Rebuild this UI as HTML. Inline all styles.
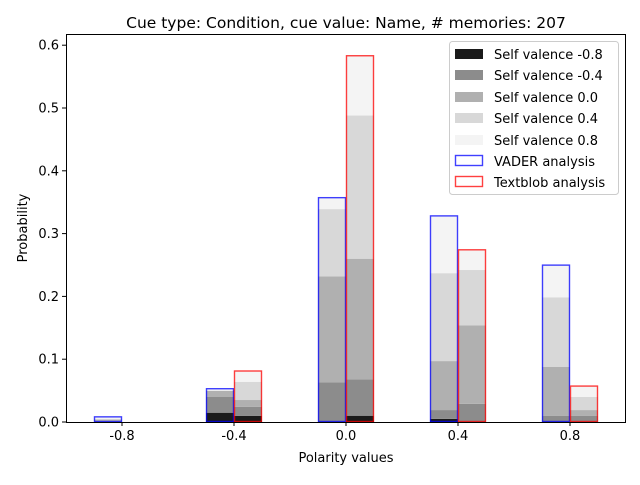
<!DOCTYPE html>
<html><head><meta charset="utf-8"><style>
body{margin:0;background:#fff}
svg{font-family:"DejaVu Sans","Liberation Sans",sans-serif}
</style></head><body>
<svg id="c" width="640" height="480"></svg>
<script>
const categories=[-0.8,-0.4,0.0,0.4,0.8];
const seriesNames=["Self valence -0.8","Self valence -0.4","Self valence 0.0","Self valence 0.4","Self valence 0.8"];
const vaderM08=[0,0.0148,0,0.005,0];
const vaderM04=[0,0.025,0.063,0.014,0.0096];
const vader00=[0.004,0.01,0.169,0.078,0.078];
const vader04=[0,0,0.107,0.14,0.111];
const vader08=[0.005,0.004,0.019,0.092,0.052];
const tbM08=[0,0.0096,0.01,0,0];
const tbM04=[0,0.0144,0.058,0.029,0.0096];
const tb00=[0,0.011,0.192,0.125,0.0094];
const tb04=[0,0.029,0.228,0.088,0.021];
const tb08=[0,0.018,0.096,0.033,0.018];
const yTicks=[0,0.1,0.2,0.3,0.4,0.5,0.6];
const xTicks=[-0.8,-0.4,0.0,0.4,0.8];
const colors=["#1a1a1a","#8c8c8c","#b0b0b0","#d8d8d8","#f4f4f4"];
const NS="http://www.w3.org/2000/svg";
const svg=document.getElementById('c');
const L=66,R=626,T=34,B=422;
const x=v=>346+(v/0.4)*112;
const y=v=>B-v*628;
function el(t,a,p){const e=document.createElementNS(NS,t);for(const k in a)e.setAttribute(k,a[k]);(p||svg).appendChild(e);return e;}
const vader=[vaderM08,vaderM04,vader00,vader04,vader08];
const tb=[tbM08,tbM04,tb00,tb04,tb08];
[[vader,-0.1,"rgba(0,0,255,0.75)"],[tb,0,"rgba(255,0,0,0.75)"]].forEach(([grp,off,edge],gi)=>{
  categories.forEach((c,i)=>{
    let acc=0;
    grp.forEach((s,si)=>{
      const v=s[i];if(v<=0)return;
      const r=el('rect',{x:x(c+off),y:y(acc+v),width:x(c+off+0.1)-x(c+off),height:y(acc)-y(acc+v),fill:colors[si]});
      
      
      acc+=v;
    });
    const o=el('rect',{x:x(c+off)+0.5,y:y(acc)+0.5,width:x(c+off+0.1)-x(c+off)-1,height:Math.max(0,y(0)-y(acc)-1),fill:'none',stroke:edge,'stroke-width':1.4});
    
    
  });
});
el('rect',{x:L+0.5,y:T+0.5,width:R-L-1,height:B-T,fill:'none',stroke:'#000','stroke-width':1});
yTicks.forEach(t=>{
  el('line',{x1:L-4,x2:L,y1:y(t),y2:y(t),stroke:'#000'});
  const tx=el('text',{x:L-7,y:y(t)+4.5,'text-anchor':'end','font-size':13});
  tx.textContent=t.toFixed(1);
  
  
});
xTicks.forEach(t=>{
  el('line',{x1:x(t),x2:x(t),y1:B,y2:B+4,stroke:'#000'});
  const tx=el('text',{x:x(t),y:B+18,'text-anchor':'middle','font-size':13});
  tx.textContent=t.toFixed(1);
  
  
});
</script>
<svg width="640" height="480" style="position:absolute;left:0;top:0">
<text x="346" y="28" text-anchor="middle" font-size="15.5" font-family="DejaVu Sans,sans-serif">Cue type: Condition, cue value: Name, # memories: 207</text>
<text x="346" y="462" text-anchor="middle" font-size="13" font-family="DejaVu Sans,sans-serif">Polarity values</text>
<text x="27" y="228" text-anchor="middle" font-size="13" font-family="DejaVu Sans,sans-serif" transform="rotate(-90 27 228)">Probability</text>
<g font-size="13" font-family="DejaVu Sans,sans-serif">
<rect x="449.5" y="41.5" width="169" height="153" rx="3" fill="rgba(255,255,255,0.8)" stroke="#ccc"/>
<rect x="455" y="49" width="28" height="10" fill="#1a1a1a"/><text x="494" y="59">Self valence -0.8</text>
<rect x="455" y="70" width="28" height="10" fill="#8c8c8c"/><text x="494" y="80">Self valence -0.4</text>
<rect x="455" y="92" width="28" height="10" fill="#b0b0b0"/><text x="494" y="102">Self valence 0.0</text>
<rect x="455" y="113" width="28" height="10" fill="#d8d8d8"/><text x="494" y="123">Self valence 0.4</text>
<rect x="455" y="135" width="28" height="10" fill="#f4f4f4"/><text x="494" y="145">Self valence 0.8</text>
<rect x="455.5" y="155.5" width="27" height="10" fill="none" stroke="rgba(0,0,255,0.75)" stroke-width="1.4"/><text x="494" y="166">VADER analysis</text>
<rect x="455.5" y="176.5" width="27" height="10" fill="none" stroke="rgba(255,0,0,0.75)" stroke-width="1.4"/><text x="494" y="187">Textblob analysis</text>
</g>
</svg>
</body></html>
